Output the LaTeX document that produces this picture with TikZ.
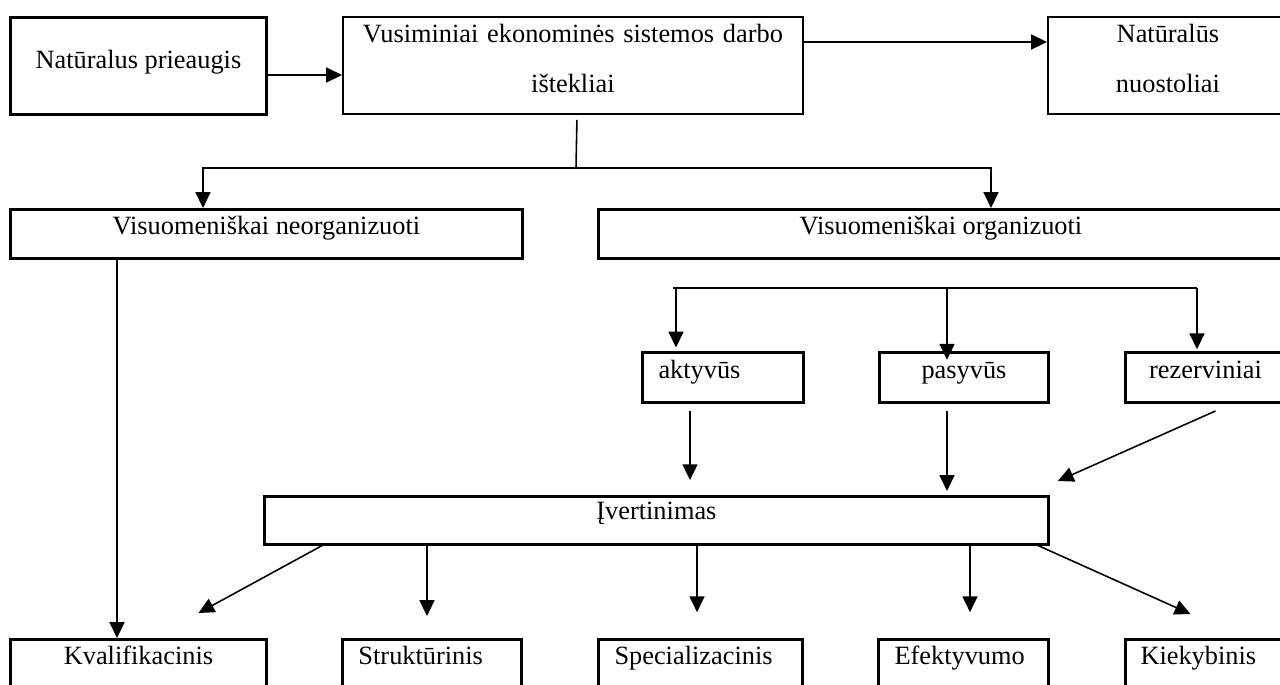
\documentclass[tikz,border=0pt]{standalone}
\usepackage{fontspec}
\setmainfont{Liberation Serif}
\usetikzlibrary{arrows.meta}

\begin{document}
\begin{tikzpicture}[x=0.02cm, y=-0.02cm,
  box/.style={draw, line width=1.7pt, inner sep=0pt, anchor=north west, font=\fontsize{15}{18}\selectfont},
  thinbox/.style={box, line width=1.1pt, align=center, font=\fontsize{15}{28.45}\selectfont},
  lbox/.style={box, inner xsep=0.32cm, align=left},
  ln/.style={line width=0.9pt},
  arr/.style={line width=0.9pt, -{Triangle[length=9pt,width=8.5pt]}}]
\useasboundingbox (0,0) rectangle (1280,684);
\clip (0,0) rectangle (1280,684);
\fill[white] (0,0) rectangle (1280,684);

% virsutine eile
\node[box, minimum width=5.12cm, text height=1.02cm, text depth=0.92cm] (prie) at (9,16) {Natūralus prieaugis};
\node[thinbox, text width=9.2cm, text height=0.52cm, text depth=1.42cm] (istek) at (342,16) {Vusiminiai ekonominės sistemos darbo\\ištekliai};
\node[thinbox, text width=4.8cm, text height=0.52cm, text depth=1.42cm] (nuost) at (1047,16) {Natūralūs\\nuostoliai};
\draw[arr] (prie.east |- 0,75) -- (istek.west |- 0,75);
\draw[arr] (istek.east |- 0,42) -- (nuost.west |- 0,42);

% visuomeniskai
\node[box, minimum width=10.24cm, text height=0.5cm, text depth=0.48cm] (neorg) at (9,208) {Visuomeniškai neorganizuoti};
\node[box, minimum width=13.7cm, text height=0.5cm, text depth=0.48cm] (org) at (597,208) {Visuomeniškai organizuoti};
\coordinate (fork) at (576,168);
\draw[ln] ([shift={(4,5)}]istek.south) -- (fork);
\draw[arr] (fork) -| (neorg.north -| 203,0);
\draw[arr] (fork) -| (org.north -| 991,0);

% aktyvus, pasyvus, rezerviniai
\node[lbox, text width=2.58cm, text height=0.52cm, text depth=0.48cm] (akt) at (641,351) {aktyvūs};
\node[box, minimum width=3.38cm, text height=0.52cm, text depth=0.48cm] (pas) at (878,351) {pasyvūs};
\node[box, minimum width=3.2cm, text height=0.52cm, text depth=0.48cm] (rez) at (1124,351) {rezerviniai};
\coordinate (bar) at (947,288);
\draw[ln] (bar -| 673,0) -- (bar -| 1197,0);
\draw[arr, shorten >=2pt] (bar -| 676,0) -- (akt.north -| 676,0);
\draw[arr, shorten >=-5pt] (bar) -- (pas.north -| bar);
\draw[arr, shorten >=1pt] (bar -| 1197,0) -- (rez.north -| 1197,0);

% ivertinimas
\node[box, minimum width=15.68cm, text height=0.46cm, text depth=0.5cm] (ivert) at (263,495) {Įvertinimas};
\draw[arr, shorten <=4pt, shorten >=8.5pt] (akt.south -| 690,0) -- (ivert.north -| 690,0);
\draw[arr, shorten <=4pt, shorten >=2.3pt] (pas.south -| 947,0) -- (ivert.north -| 947,0);
\draw[arr] ([shift={(10,7)}]rez.south) -- ([shift={(8,-14)}]ivert.north east);

% apatine eile
\node[box, minimum width=5.12cm, text height=0.5cm, text depth=1.14cm] (kval) at (9,638) {Kvalifikacinis};
\node[lbox, text width=2.94cm, text height=0.5cm, text depth=1.14cm] (strukt) at (341,638) {Struktūrinis};
\node[lbox, text width=3.44cm, text height=0.5cm, text depth=1.14cm] (spec) at (597,638) {Specializacinis};
\node[lbox, text width=2.76cm, text height=0.5cm, text depth=1.14cm] (efekt) at (877,638) {Efektyvumo};
\node[lbox, inner xsep=0.3cm, text width=2.6cm, text height=0.5cm, text depth=1.14cm] (kiek) at (1124,638) {Kiekybinis};
\draw[arr] (neorg.south -| 117,0) -- (kval.north -| 117,0);
\draw[arr] ([shift={(62,-2)}]ivert.south west) -- ([shift={(60,-25)}]kval.north);
\draw[arr, shorten >=12.5pt] (ivert.south -| 427,0) -- (strukt.north -| 427,0);
\draw[arr, shorten >=14.7pt] (ivert.south -| 697,0) -- (spec.north -| 697,0);
\draw[arr, shorten >=14.7pt] (ivert.south -| 970,0) -- (efekt.north -| 970,0);
\draw[arr] ([shift={(-13,-1)}]ivert.south east) -- ([shift={(-15,-24)}]kiek.north);
\end{tikzpicture}
\end{document}
